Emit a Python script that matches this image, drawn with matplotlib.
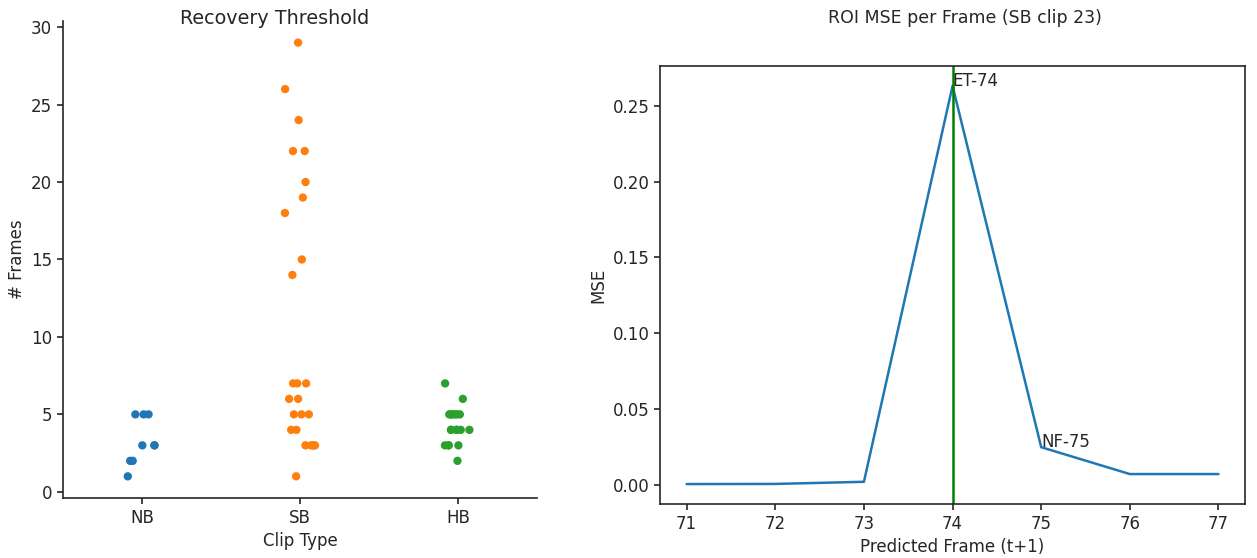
import numpy as np
import pandas as pd
import matplotlib
matplotlib.use('Agg')
import matplotlib.pyplot as plt
import seaborn as sns

# Recovery threshold (# frames) per clip type
nb_frames = [5, 5, 5, 3, 3, 3, 2, 2, 1]
sb_frames = [29, 26, 24, 22, 22, 20, 19, 18, 15, 14, 7, 7, 7, 6, 6, 5, 5, 5, 4, 4, 3, 3, 3, 3, 3, 1]
hb_frames = [7, 6, 5, 5, 5, 5, 5, 5, 5, 4, 4, 4, 4, 4, 4, 3, 3, 3, 3, 2]
clip_types = ['NB', 'SB', 'HB']

# ROI MSE per frame (SB clip 23)
frames = [71, 72, 73, 74, 75, 76, 77]
mse = [0.0007, 0.0008, 0.0022, 0.263, 0.025, 0.0073, 0.0073]
et_frame = 74
nf_frame = 75

df = pd.DataFrame({
    'Clip Type': ['NB'] * len(nb_frames) + ['SB'] * len(sb_frames) + ['HB'] * len(hb_frames),
    '# Frames': nb_frames + sb_frames + hb_frames,
})

sns.set_style('ticks')
plt.rcParams.update({
    'font.size': 12,
    'axes.labelsize': 12,
    'xtick.labelsize': 12,
    'ytick.labelsize': 12,
    'xtick.major.size': 4.2,
    'ytick.major.size': 4.2,
    'axes.linewidth': 1.2,
    'xtick.major.width': 1.2,
    'ytick.major.width': 1.2,
})
fig = plt.figure(figsize=(12.57, 5.58), dpi=100)

# left: strip plot
ax1 = fig.add_axes([0.0501, 0.1075, 0.3771, 0.855])
np.random.seed(3)
sns.stripplot(data=df, x='Clip Type', y='# Frames', hue='Clip Type', order=clip_types,
              hue_order=clip_types, palette=['#1f77b4', '#ff7f0e', '#2ca02c'],
              legend=False, size=6, ax=ax1)
sns.despine(ax=ax1)
ax1.set_yticks([0, 5, 10, 15, 20, 25, 30])
fig.text(275 / 1257, 1 - 18 / 558, 'Recovery Threshold', ha='center', va='center',
         fontsize=13.8, color='.15')

# right: MSE line
ax2 = fig.add_axes([0.5251, 0.0968, 0.4654, 0.785])
ax2.plot(frames, mse, color='#1f77b4', linewidth=1.8)
ax2.axvline(et_frame, color='green', linewidth=1.8)
ax2.text(et_frame, mse[frames.index(et_frame)], 'ET-%d' % et_frame, fontsize=12)
ax2.text(nf_frame, mse[frames.index(nf_frame)], 'NF-%d' % nf_frame, fontsize=12)
ax2.set_xlabel('Predicted Frame (t+1)')
ax2.set_ylabel('MSE')
fig.text(965 / 1257, 1 - 18 / 558, 'ROI MSE per Frame (SB clip 23)', ha='center', va='center',
         fontsize=12.5, color='.15')

plt.savefig('out.png', dpi=100)
